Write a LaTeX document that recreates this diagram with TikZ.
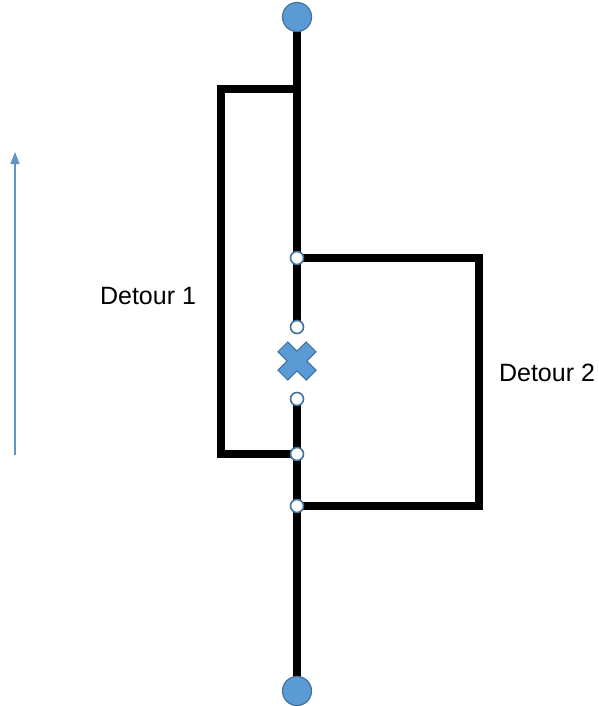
\documentclass[tikz,border=0pt]{standalone}
\usepackage{fontspec}
\setmainfont{Liberation Sans}
\usetikzlibrary{arrows.meta,backgrounds}
\definecolor{markblue}{HTML}{5B9BD5}
\definecolor{markedge}{HTML}{41719C}
\begin{document}
\begin{tikzpicture}[
  x=1pt, y=-1pt,
  track/.style={draw=black, line width=8pt},
  endpoint/.style={circle, fill=markblue, draw=markedge, line width=1.2pt, inner sep=0pt, minimum size=29pt},
  joint/.style={circle, fill=white, draw=markedge, line width=1.6pt, inner sep=0pt, minimum size=13pt},
  label/.style={font=\fontsize{25}{30}\selectfont, inner sep=0pt}
]
  \useasboundingbox (0,0) rectangle (598,706);

  % ==========================================
  % 1. PUNTOS (extremos, uniones y bloqueo)
  % ==========================================
  \node[endpoint] (topend) at (297,17) {};
  \node[endpoint] (botend) at (297,691) {};
  \node[joint] (j1) at (297,258) {};
  \node[joint] (gaptop) at (297,327) {};
  \node[joint] (gapbot) at (297,399) {};
  \node[joint] (j2) at (297,454) {};
  \node[joint] (j3) at (297,506) {};

  \coordinate (d1top) at (297,89);
  \coordinate (d1sw) at (221,454);
  \coordinate (d2se) at (479,506);

  % bloqueo (cruz azul)
  \begin{scope}[shift={(297,361)}, rotate=45]
    \filldraw[fill=markblue, draw=markedge, line width=1pt]
      (7,20) -- (7,7) -- (20,7) -- (20,-7) -- (7,-7) -- (7,-20) --
      (-7,-20) -- (-7,-7) -- (-20,-7) -- (-20,7) -- (-7,7) -- (-7,20) -- cycle;
  \end{scope}

  % ==========================================
  % 2. VIAS (dibujadas al fondo)
  % ==========================================
  \begin{scope}[on background layer]
    \draw[track] (topend.center) -- (gaptop.center);
    \draw[track] (gapbot.center) -- (botend.center);

    % Detour 1
    \draw[track] (d1top) -| (d1sw) -- (j2.center);
    % Detour 2
    \draw[track] (j1.center) -| (d2se) -- (j3.center);
  \end{scope}

  \node[label] (lab1) at (148,296) {Detour 1};
  \node[label] (lab2) at (547,373) {Detour 2};

  % flecha de sentido
  \coordinate (arrtail) at (15,455);
  \coordinate (arrhead) at (15,152);
  \draw[markblue!80!gray, line width=1.2pt, -{Triangle[width=9pt,length=12pt]}] (arrtail) -- (arrhead);

\end{tikzpicture}
\end{document}
